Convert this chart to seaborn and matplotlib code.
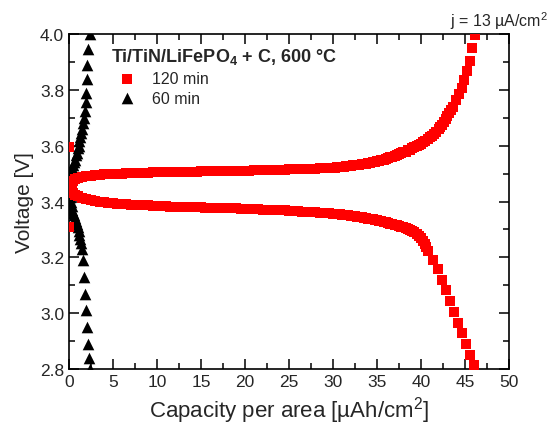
import matplotlib
matplotlib.use("Agg")
import matplotlib.pyplot as plt
from matplotlib.ticker import MultipleLocator
import seaborn as sns

# 120 min sample, charge branch (upper)
cap_120_chg = [0.0, 0.1, 0.3, 0.5, 0.75, 1.0, 1.5, 2.0, 2.5, 3.0, 3.5, 4.0, 4.5,
               5.0, 5.5, 6.0, 6.5, 7.0, 7.5, 8.0, 8.5, 9.0, 9.5, 10.0, 10.5, 11.0, 11.5,
               12.0, 12.5, 13.0, 13.5, 14.0, 14.5, 15.0, 15.5, 16.0, 16.5, 17.0, 17.5,
               18.0, 18.5, 19.0, 19.5, 20.0, 20.5, 21.0, 21.5, 22.0, 22.5, 23.0, 23.5,
               24.0, 24.5, 25.0, 25.5, 26.0, 26.5, 27.0, 27.5, 28.0, 28.5, 29.0, 29.5,
               30.0, 30.25, 30.5, 30.75, 31.0, 31.25, 31.5, 31.75, 32.0, 32.25, 32.5, 32.75,
               33.0, 33.25, 33.5, 33.75, 34.0, 34.25, 34.5, 34.75, 35.0, 35.25, 35.5, 35.75,
               36.0, 36.25, 36.5, 36.75, 37.0, 37.25, 37.5, 37.75, 38.0, 38.25, 38.5, 38.75,
               39.0, 39.25, 39.5, 39.75, 40.0, 40.25, 40.5, 40.75, 41.0, 41.25, 41.5, 41.75,
               42.0, 42.2, 42.4, 42.6, 42.8, 43.0, 43.2, 43.4, 43.6,
               44.0, 44.3, 44.6, 44.9, 45.2, 45.5, 45.8, 46.1]
v_120_chg = [3.310, 3.450, 3.465, 3.474, 3.480, 3.484, 3.488, 3.491, 3.493, 3.495, 3.496, 3.497, 3.498,
             3.499, 3.500, 3.500, 3.501, 3.501, 3.502, 3.502, 3.503, 3.503, 3.504, 3.504, 3.505, 3.505, 3.505,
             3.506, 3.506, 3.506, 3.507, 3.507, 3.507, 3.508, 3.508, 3.508, 3.509, 3.509, 3.509,
             3.510, 3.510, 3.510, 3.511, 3.511, 3.511, 3.512, 3.512, 3.512, 3.513, 3.513, 3.513,
             3.514, 3.514, 3.515, 3.515, 3.516, 3.516, 3.517, 3.517, 3.518, 3.519, 3.519, 3.520,
             3.521, 3.521, 3.522, 3.523, 3.524, 3.525, 3.526, 3.527, 3.528, 3.529, 3.530, 3.531,
             3.532, 3.533, 3.535, 3.536, 3.538, 3.539, 3.541, 3.542, 3.544, 3.546, 3.548, 3.550,
             3.553, 3.555, 3.558, 3.560, 3.563, 3.566, 3.569, 3.572, 3.576, 3.579, 3.583, 3.586,
             3.590, 3.594, 3.598, 3.602, 3.607, 3.612, 3.618, 3.624, 3.630, 3.636, 3.643, 3.650,
             3.658, 3.666, 3.675, 3.685, 3.695, 3.705, 3.716, 3.728, 3.740,
             3.765, 3.785, 3.808, 3.835, 3.868, 3.905, 3.950, 3.998]

# 120 min sample, discharge branch (lower)
cap_120_dis = [0.0, 0.1, 0.3, 0.5, 0.75, 1.0, 1.5, 2.0, 2.5, 3.0, 3.5, 4.0, 4.5,
               5.0, 5.5, 6.0, 6.5, 7.0, 7.5, 8.0, 8.5, 9.0, 9.5, 10.0, 10.5, 11.0, 11.5,
               12.0, 12.5, 13.0, 13.5, 14.0, 14.5, 15.0, 15.5, 16.0, 16.5, 17.0, 17.5,
               18.0, 18.5, 19.0, 19.5, 20.0, 20.5, 21.0, 21.5, 22.0, 22.5, 23.0, 23.5,
               24.0, 24.5, 25.0, 25.5, 26.0, 26.5, 27.0, 27.5, 28.0, 28.5, 29.0, 29.5,
               30.0, 30.25, 30.5, 30.75, 31.0, 31.25, 31.5, 31.75, 32.0, 32.25, 32.5, 32.75,
               33.0, 33.25, 33.5, 33.75, 34.0, 34.25, 34.5, 34.75, 35.0, 35.25, 35.5, 35.75,
               36.0, 36.25, 36.5, 36.75, 37.0, 37.25, 37.5, 37.75, 38.0, 38.25, 38.5, 38.75,
               39.0, 39.25, 39.5, 39.75, 40.0, 40.2, 40.4, 40.6, 40.8, 41.4,
               41.9, 42.4, 42.8, 43.3, 43.7, 44.2, 44.7, 45.1, 45.6, 46.0, 46.4]
v_120_dis = [3.595, 3.455, 3.440, 3.432, 3.425, 3.420, 3.414, 3.409, 3.405, 3.402, 3.399, 3.397, 3.395,
             3.393, 3.392, 3.391, 3.390, 3.389, 3.388, 3.387, 3.386, 3.386, 3.385, 3.384, 3.384, 3.383, 3.382,
             3.382, 3.381, 3.381, 3.380, 3.380, 3.379, 3.379, 3.378, 3.378, 3.377, 3.377, 3.376,
             3.376, 3.375, 3.375, 3.374, 3.374, 3.373, 3.373, 3.372, 3.371, 3.371, 3.370, 3.369,
             3.369, 3.368, 3.367, 3.366, 3.365, 3.364, 3.363, 3.362, 3.361, 3.360, 3.359, 3.358,
             3.356, 3.356, 3.355, 3.354, 3.353, 3.352, 3.351, 3.350, 3.349, 3.348, 3.347, 3.346,
             3.345, 3.344, 3.342, 3.341, 3.339, 3.338, 3.336, 3.335, 3.333, 3.331, 3.329, 3.327,
             3.325, 3.323, 3.321, 3.319, 3.317, 3.315, 3.312, 3.310, 3.307, 3.304, 3.301, 3.298,
             3.294, 3.289, 3.284, 3.277, 3.268, 3.259, 3.249, 3.236, 3.222, 3.190,
             3.160, 3.120, 3.084, 3.045, 3.005, 2.965, 2.930, 2.890, 2.850, 2.815, 2.780]

# 60 min sample, charge and discharge branches
cap_60_chg = [0.0, 0.05, 0.1, 0.2, 0.3, 0.4, 0.5, 0.6, 0.7, 0.8, 0.9, 1.0, 1.1, 1.2,
              1.3, 1.4, 1.5, 1.6, 1.7, 1.8, 1.9, 2.0, 2.05, 2.1, 2.15, 2.35]
v_60_chg = [3.45, 3.47, 3.485, 3.50, 3.51, 3.52, 3.53, 3.54, 3.55, 3.565, 3.575, 3.59, 3.60, 3.615,
            3.63, 3.645, 3.66, 3.68, 3.70, 3.725, 3.755, 3.79, 3.84, 3.89, 3.945, 4.0]
cap_60_dis = [0.0, 0.05, 0.1, 0.2, 0.3, 0.4, 0.5, 0.6, 0.7, 0.8, 0.9, 1.0, 1.1, 1.2,
              1.3, 1.4, 1.5, 1.6, 1.75, 1.85, 1.95, 2.05, 2.15, 2.25, 2.4]
v_60_dis = [3.45, 3.43, 3.415, 3.40, 3.385, 3.37, 3.36, 3.35, 3.34, 3.33, 3.32, 3.31, 3.295, 3.28,
            3.265, 3.25, 3.23, 3.19, 3.13, 3.07, 3.01, 2.95, 2.89, 2.84, 2.80]

sns.set_style("ticks")
plt.rcParams["font.family"] = ["Liberation Sans", "DejaVu Sans"]
plt.rcParams["mathtext.fontset"] = "custom"
plt.rcParams["mathtext.rm"] = "Liberation Sans"
plt.rcParams["mathtext.bf"] = "Liberation Sans:bold"

fig, ax = plt.subplots(figsize=(5.51, 4.27), dpi=100)
fig.subplots_adjust(left=0.125, right=0.924, bottom=0.1335, top=0.918)

sns.scatterplot(x=cap_60_chg + cap_60_dis, y=v_60_chg + v_60_dis, marker="^", s=70,
                color="black", linewidth=0, ax=ax, label="60 min", zorder=2)
sns.scatterplot(x=cap_120_chg + cap_120_dis, y=v_120_chg + v_120_dis, marker="s", s=42,
                color="red", linewidth=0, ax=ax, label="120 min", zorder=3)

ax.set_xlim(0, 50)
ax.set_ylim(2.8, 4.0)
ax.xaxis.set_major_locator(MultipleLocator(5))
ax.xaxis.set_minor_locator(MultipleLocator(2.5))
ax.yaxis.set_major_locator(MultipleLocator(0.2))
ax.yaxis.set_minor_locator(MultipleLocator(0.1))
ax.tick_params(which="both", direction="in", top=True, right=True, width=1.1,
               labelsize=12.5, color="black")
ax.tick_params(which="major", length=7)
ax.tick_params(which="minor", length=4)
for sp in ax.spines.values():
    sp.set_linewidth(1.2)
    sp.set_color("black")

ax.set_xlabel("Capacity per area [µAh/cm$^2$]", fontsize=16, labelpad=4)
ax.set_ylabel("Voltage [V]", fontsize=15, labelpad=4)

handles, labels = ax.get_legend_handles_labels()
leg = ax.legend([handles[1], handles[0]], [labels[1], labels[0]],
                title=r"Ti/TiN/LiFePO$_\mathbf{4}$ + C, 600 °C",
                title_fontproperties={"weight": "bold", "size": 13},
                fontsize=11.5, frameon=False, loc="upper left",
                bbox_to_anchor=(0.081, 0.983), alignment="left",
                handletextpad=0.6, labelspacing=0.3, borderaxespad=0)

fig.text(0.995, 1 - 27 / 427, "j = 13 µA/cm$^2$", ha="right", va="baseline", fontsize=11.5)

fig.savefig("out.png", dpi=100)
